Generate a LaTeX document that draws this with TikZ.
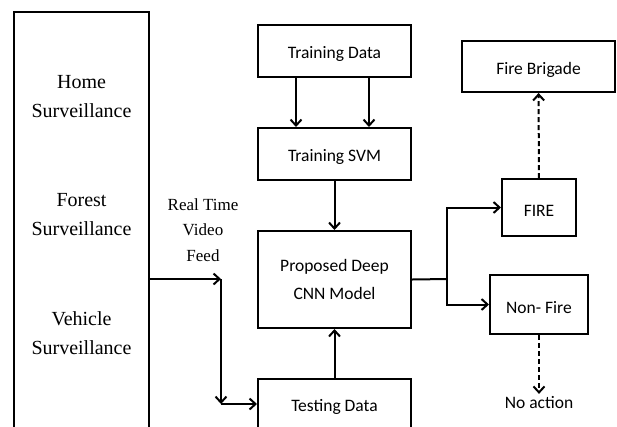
\documentclass[tikz,border=0pt]{standalone}
\usepackage{fontspec}
\setmainfont{Liberation Serif}
\newfontfamily\calibri{Carlito}
\usetikzlibrary{arrows.meta, positioning, calc}

\begin{document}
\begin{tikzpicture}[x=1pt, y=-1pt, >={Straight Barb[length=6pt, width=11pt]},
    line width=2pt,
    box/.style={rectangle, draw=black, line width=2pt, fill=white,
                font=\calibri\fontsize{17.5}{28}\selectfont, align=center,
                inner sep=0pt, execute at begin node={\rule{0pt}{18pt}}},
    src/.style={font=\fontsize{20}{29}\selectfont, align=center, inner sep=0pt},
    feed/.style={font=\fontsize{17}{25.5}\selectfont, align=center, inner sep=0pt},
    flow/.style={->, line width=2pt},
    hint/.style={->, line width=2pt, dash pattern=on 5pt off 3pt}]

\useasboundingbox (0,0) rectangle (617,426);
\clip (0,0) rectangle (617,426);

% ---------- sources column ----------
\node[box, minimum width=135pt, minimum height=428pt] (sources) at (81.5,226) {};
\node[src] (home) at (81.5,97) {Home\\Surveillance};
\node[src] (forest) at (81.5,215) {Forest\\Surveillance};
\node[src] (vehicle) at (81.5,333) {Vehicle\\Surveillance};

\node[feed] (feedtxt) at (203,230) {Real Time\\Video\\Feed};

% ---------- training / model / testing ----------
\node[box, minimum width=153pt, minimum height=52pt] (train) at (334.5,51) {Training Data};
\node[box, minimum width=153pt, minimum height=52pt] (svm) at (334.5,154) {Training SVM};
\node[box, minimum width=153pt, minimum height=97pt] (cnn) at (334.5,279.5) {Proposed Deep\\CNN Model};
\node[box, minimum width=153pt, minimum height=50pt] (test) at (334.5,404) {Testing Data};

% ---------- decisions ----------
\node[box, minimum width=153pt, minimum height=51pt] (brigade) at (538.5,66.5) {Fire Brigade};
\node[box, minimum width=74pt, minimum height=57pt] (fire) at (539,207.5) {FIRE};
\node[box, minimum width=98pt, minimum height=59pt] (nonfire) at (539,304.5) {Non- Fire};
\node[font=\calibri\fontsize{17.5}{21}\selectfont, inner sep=2pt] (noact) at (539,403) {No action};

% ---------- connectors ----------
\coordinate (feedpt) at (221,279);
\coordinate (turn) at (221,404);
\coordinate (split) at (447,279);

\draw[flow] (sources.east |- feedpt) -- (feedpt);
\draw[flow] (feedpt) -- (turn);
\draw[flow] (turn) -- (test.west);

\draw[flow] ([xshift=-38.5pt]train.south) -- ([xshift=-38.5pt]svm.north);
\draw[flow] ([xshift=34.5pt]train.south) -- ([xshift=34.5pt]svm.north);
\draw[flow] (svm) -- (cnn);
\draw[flow] (test) -- (cnn);

\draw (cnn.east) -- (split);
\draw[flow] (split) |- (fire.west);
\draw[flow] (split) |- (nonfire.west);

\draw[hint] (fire) -- (brigade);
\draw[hint] (nonfire) -- (noact);

\end{tikzpicture}
\end{document}
